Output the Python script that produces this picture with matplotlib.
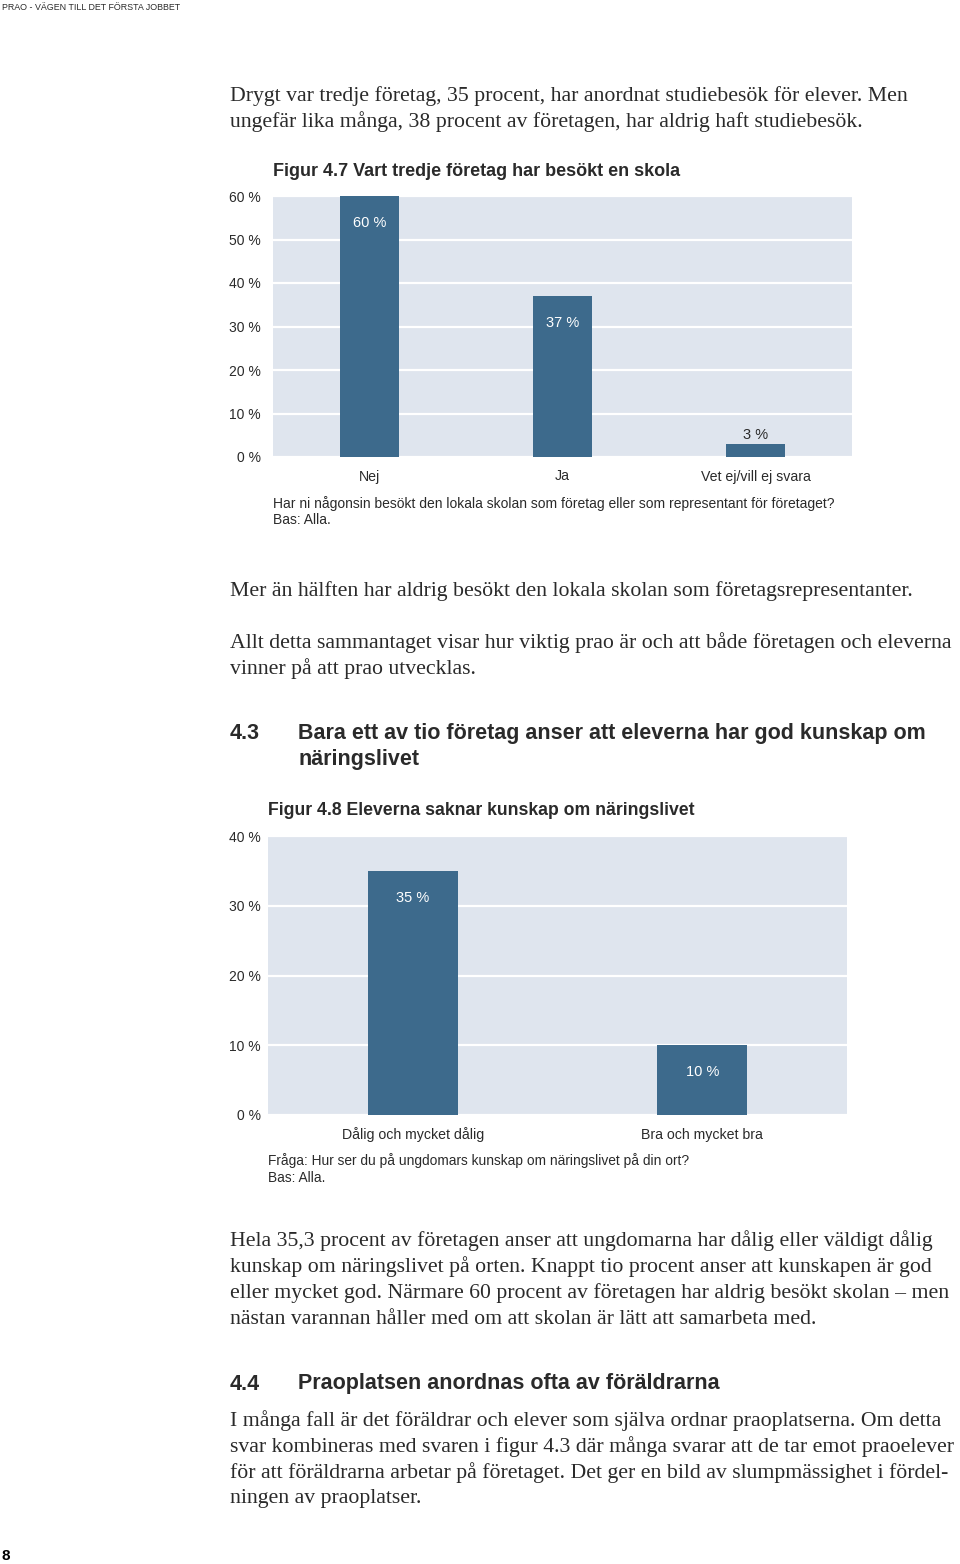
import matplotlib
matplotlib.use('Agg')
import matplotlib.pyplot as plt

W, H = 960, 1564

# figur 4.7
fig1_title = 'Figur 4.7 Vart tredje företag har besökt en skola'
fig1_cats = ['Nej', 'Ja', 'Vet ej/vill ej svara']
fig1_vals = [60, 37, 3]
fig1_ticks = [0, 10, 20, 30, 40, 50, 60]
fig1_note = ['Har ni någonsin besökt den lokala skolan som företag eller som representant för företaget?',
             'Bas: Alla.']

# figur 4.8
fig2_title = 'Figur 4.8 Eleverna saknar kunskap om näringslivet'
fig2_cats = ['Dålig och mycket dålig', 'Bra och mycket bra']
fig2_vals = [35, 10]
fig2_ticks = [0, 10, 20, 30, 40]
fig2_note = ['Fråga: Hur ser du på ungdomars kunskap om näringslivet på din ort?',
             'Bas: Alla.']

header = 'PRAO - VÄGEN TILL DET FÖRSTA JOBBET'
page_no = '8'

para1 = ['Drygt var tredje företag, 35 procent, har anordnat studiebesök för elever. Men',
         'ungefär lika många, 38 procent av företagen, har aldrig haft studiebesök.']
para2 = ['Mer än hälften har aldrig besökt den lokala skolan som företagsrepresentanter.']
para3 = ['Allt detta sammantaget visar hur viktig prao är och att både företagen och eleverna',
         'vinner på att prao utvecklas.']
head43 = ['Bara ett av tio företag anser att eleverna har god kunskap om', 'näringslivet']
para4 = ['Hela 35,3 procent av företagen anser att ungdomarna har dålig eller väldigt dålig',
         'kunskap om näringslivet på orten. Knappt tio procent anser att kunskapen är god',
         'eller mycket god. Närmare 60 procent av företagen har aldrig besökt skolan – men',
         'nästan varannan håller med om att skolan är lätt att samarbeta med.']
head44 = ['Praoplatsen anordnas ofta av föräldrarna']
para5 = ['I många fall är det föräldrar och elever som själva ordnar praoplatserna. Om detta',
         'svar kombineras med svaren i figur 4.3 där många svarar att de tar emot praoelever',
         'för att föräldrarna arbetar på företaget. Det ger en bild av slumpmässighet i fördel-',
         'ningen av praoplatser.']

BAR = '#3d6a8c'
BG = '#dfe5ee'
TXT = '#2a2a2a'
sans = ['Liberation Sans', 'DejaVu Sans']
serif = ['Liberation Serif', 'DejaVu Serif']

fig = plt.figure(figsize=(W / 100, H / 100), dpi=100)


def put(x, y, s, **kw):
    kw.setdefault('va', 'center')
    kw.setdefault('color', TXT)
    fig.text(x / W, 1 - y / H, s, **kw)


def lines(x, y0, rows, step, **kw):
    for i, s in enumerate(rows):
        put(x, y0 + i * step, s, **kw)


def bar_chart(box, cats, vals, ticks, ypad):
    l, t, r, b = box
    ax = fig.add_axes([l / W, 1 - b / H, (r - l) / W, (b - t) / H])
    ax.set_facecolor(BG)
    x = list(range(len(cats)))
    ax.bar(x, vals, width=0.31, color=BAR, zorder=3)
    ax.set_xlim(-0.5, len(cats) - 0.5)
    ax.set_ylim(0, ticks[-1])
    ax.set_yticks(ticks)
    ax.set_yticklabels([f'{v} %' for v in ticks], family=sans, fontsize=10, color=TXT)
    ax.set_xticks(x)
    ax.set_xticklabels(cats, family=sans, fontsize=10.2, color=TXT)
    ax.tick_params(axis='y', length=0, pad=ypad)
    ax.tick_params(axis='x', length=0, pad=9)
    ax.yaxis.grid(True, color='white', lw=1.6)
    ax.set_axisbelow(True)
    for s in ax.spines.values():
        s.set_visible(False)
    for i, v in enumerate(vals):
        if v >= 8:
            ax.annotate(f'{v} %', (i, v), xytext=(0, -27), textcoords='offset pixels',
                        ha='center', va='center', color='white', family=sans, fontsize=10.5)
        else:
            ax.annotate(f'{v} %', (i, v), xytext=(0, 9), textcoords='offset pixels',
                        ha='center', va='center', color=TXT, family=sans, fontsize=10.5)
    return ax


# sidhuvud och sidnummer
put(2, 7, header, family=sans, fontsize=6.4)
put(2, 1556, page_no, family=sans, fontsize=11, weight='bold', color='black')

# brödtext
body = dict(family=serif, fontsize=15.7)
lines(230, 96, para1, 26, **body)
lines(230, 591, para2, 26, **body)
lines(230, 643, para3, 26, **body)
lines(230, 1241, para4, 26, **body)
lines(230, 1421, para5, 26, **body)

# rubriker
hd = dict(family=sans, fontsize=15.5, weight='bold')
put(230, 733, '4.3', **hd)
lines(298, 733, head43, 26, **hd)
put(230, 1384, '4.4', **hd)
lines(298, 1384, head44, 26, **hd)

# figur 4.7
put(273, 172, fig1_title, family=sans, fontsize=13, weight='bold')
bar_chart((273, 196, 852, 457), fig1_cats, fig1_vals, fig1_ticks, 8.6)
lines(273, 504, fig1_note, 16, family=sans, fontsize=10)

# figur 4.8
put(268, 811, fig2_title, family=sans, fontsize=12.7, weight='bold')
bar_chart((268, 836, 847, 1115), fig2_cats, fig2_vals, fig2_ticks, 5)
lines(268, 1161, fig2_note, 17, family=sans, fontsize=9.9)

fig.savefig('out.png', dpi=100)
